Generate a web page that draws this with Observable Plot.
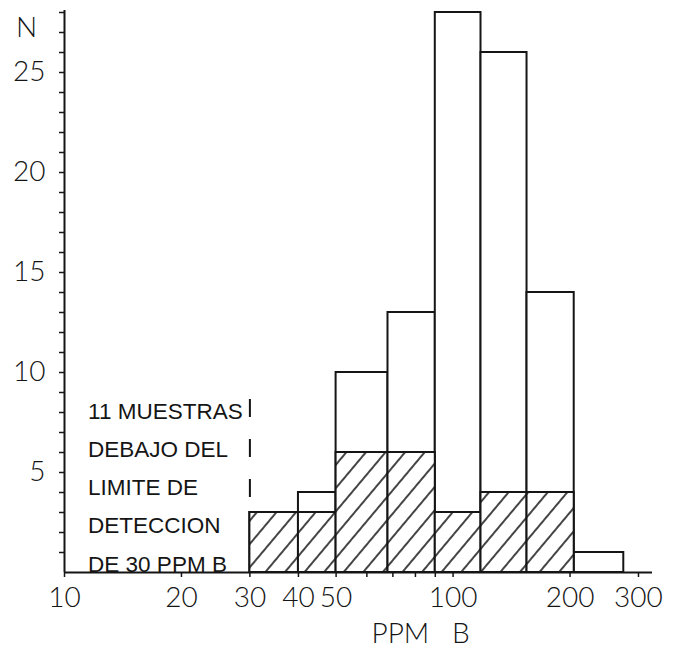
<!DOCTYPE html>
<html>
<head>
<meta charset="utf-8">
<script src="https://cdn.jsdelivr.net/npm/d3@7"></script>
<script src="https://cdn.jsdelivr.net/npm/@observablehq/plot@0.6"></script>
<style>
  html, body { margin: 0; padding: 0; background: #fff; }
  #chart svg { display: block; }
</style>
</head>
<body>
<div id="chart"></div>
<script>
// Histogram bins (PPM B, log scale)
const binEdges = [30, 40, 50, 68, 90, 118, 155, 205, 275];
const totalCounts = [3, 4, 10, 13, 28, 26, 14, 1];
const hatchedCounts = [3, 3, 6, 6, 3, 4, 4, 0];

const xTicks = [10, 20, 30, 40, 50, 60, 70, 80, 90, 100, 200, 300];
const xLabels = [10, 20, 30, 40, 50, 100, 200, 300];
const yTicks = [1,2,3,4,5,6,7,8,9,10,11,12,13,14,15,16,17,18,19,20,21,22,23,24,25,26,27,28];
const yLabels = [5, 10, 15, 20, 25];

const noteLines = ["11 MUESTRAS", "DEBAJO DEL", "LIMITE DE", "DETECCION", "DE 30 PPM B"];
const detectionLimit = 30;

const bins = totalCounts.map((n, i) => ({
  x1: binEdges[i], x2: binEdges[i + 1], total: n, hatched: hatchedCounts[i]
}));

const ink = "#151515";

const plot = Plot.plot({
  width: 693,
  height: 649,
  marginLeft: 64,
  marginRight: 41,
  marginTop: 10,
  marginBottom: 77,
  style: {fontFamily: "Lato, 'DejaVu Sans', sans-serif", fontWeight: 300, color: ink, background: "#fff"},
  x: {type: "log", domain: [10, 326]},
  y: {domain: [0, 28.1]},
  marks: [
    Plot.rectY(bins, {x1: "x1", x2: "x2", y1: 0, y2: "total", fill: "#fff", stroke: ink, strokeWidth: 2}),
    Plot.rectY(bins.filter(d => d.hatched > 0), {x1: "x1", x2: "x2", y1: 0, y2: "hatched", fill: "url(#hatch)", stroke: ink, strokeWidth: 2}),
    Plot.ruleX([detectionLimit], {y1: 8.65, y2: 3.7, stroke: ink, strokeWidth: 2, strokeDasharray: "18 22"}),
    Plot.ruleY([0], {x1: 10, x2: 326, stroke: ink, strokeWidth: 2}),
    Plot.ruleX([10], {y1: 0, y2: 28.1, stroke: ink, strokeWidth: 2}),
    Plot.axisX(xTicks, {
      tickSize: 5, tickPadding: 10, strokeWidth: 1.5,
      tickFormat: d => xLabels.includes(d) ? String(d) : "",
      fontSize: 28, label: null
    }),
    Plot.axisY(yTicks, {
      tickSize: 5, tickPadding: 14, strokeWidth: 1.5,
      tickFormat: d => yLabels.includes(d) ? String(d) : "",
      fontSize: 28, label: null
    }),
    Plot.text(["N"], {x: 10, y: 27.2, dx: -38, fontSize: 28, textAnchor: "middle"}),
    Plot.text(["PPM\u00a0\u00a0\u00a0B"], {x: 82.5, y: 0, dy: 62, fontSize: 28, textAnchor: "middle"}),
    Plot.text([noteLines.join("\n")], {
      x: 11.5, y: 0, dy: -1, textAnchor: "start", lineAnchor: "bottom",
      lineHeight: 1.7, fontSize: 22.5, fontFamily: "'Liberation Sans', Arial, sans-serif",
      fontWeight: 400
    })
  ]
});

// hatch pattern
const svg = d3.select(plot);
const defs = svg.insert("defs", ":first-child");
defs.append("pattern")
  .attr("id", "hatch")
  .attr("patternUnits", "userSpaceOnUse")
  .attr("width", 15)
  .attr("height", 15)
  .attr("patternTransform", "rotate(40)")
  .call(p => p.append("rect").attr("width", 15).attr("height", 15).attr("fill", "#fff"))
  .append("line")
  .attr("x1", 1).attr("y1", 0).attr("x2", 1).attr("y2", 15)
  .attr("stroke", ink).attr("stroke-width", 1.6);

document.getElementById("chart").appendChild(plot);
</script>
</body>
</html>
